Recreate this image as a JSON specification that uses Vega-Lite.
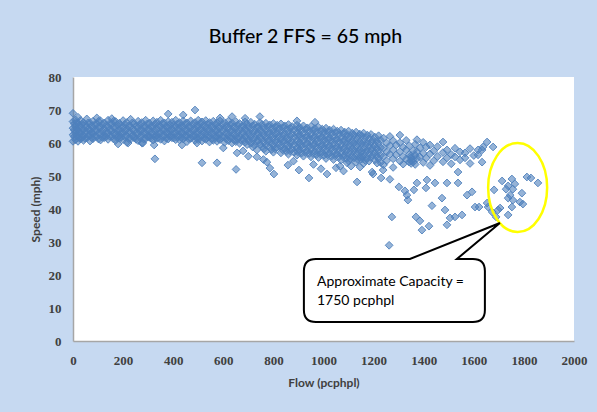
{
  "$schema": "https://vega.github.io/schema/vega-lite/v6.json",
  "width": 501,
  "height": 264,
  "autosize": "none",
  "padding": {"left": 73, "top": 77, "right": 23, "bottom": 71},
  "background": "#C6D9F1",
  "title": {"text": "Buffer 2 FFS = 65 mph", "font": "Lato", "fontSize": 19.5, "fontWeight": 500, "color": "#000000", "frame": "group", "anchor": "middle", "dx": -18, "offset": 24},
  "config": {
    "view": {"fill": "white", "stroke": null},
    "axis": {"grid": false, "ticks": false, "domainColor": "#A6A6A6", "domainWidth": 1.5, "labelFont": "Liberation Serif", "labelFontWeight": "bold", "labelFontSize": 13, "labelColor": "#404040", "titleFont": "Lato", "titleFontSize": 12, "titleFontWeight": "bold", "titleColor": "#404040"}
  },
  "encoding": {
    "x": {"field": "flow", "type": "quantitative", "scale": {"domain": [0, 2000], "nice": false, "zero": true}, "axis": {"title": "Flow (pcphpl)", "format": "d", "values": [0, 200, 400, 600, 800, 1000, 1200, 1400, 1600, 1800, 2000], "labelPadding": 13, "titlePadding": 10, "labelFlush": false}},
    "y": {"field": "speed", "type": "quantitative", "scale": {"domain": [0, 80], "nice": false}, "axis": {"title": "Speed (mph)", "format": "d", "values": [0, 10, 20, 30, 40, 50, 60, 70, 80], "labelPadding": 12, "titlePadding": 6, "labelFlush": false}}
  },
  "layer": [
    {
      "data": {"values": [
        {"flow":0,"speed":69},{"flow":0,"speed":66.5},{"flow":0,"speed":64.5},{"flow":0,"speed":62.5},{"flow":0,"speed":60.5},
        {"flow":10,"speed":67},{"flow":10,"speed":65},{"flow":10,"speed":63},{"flow":10,"speed":61},
        {"flow":20,"speed":67.8},{"flow":20,"speed":66},{"flow":20,"speed":64},{"flow":20,"speed":62},{"flow":20,"speed":60.5},
        {"flow":30,"speed":66.8},{"flow":30,"speed":64.8},{"flow":30,"speed":62.8},{"flow":30,"speed":61.2},
        {"flow":42,"speed":66.2},{"flow":42,"speed":64.2},{"flow":42,"speed":62.2},{"flow":42,"speed":60.8},
        {"flow":55,"speed":67.3},{"flow":55,"speed":65.1},{"flow":55,"speed":63.4},{"flow":55,"speed":61.5},
        {"flow":68,"speed":66},{"flow":68,"speed":64},{"flow":68,"speed":62.4},{"flow":68,"speed":60.6},
        {"flow":80,"speed":66.6},{"flow":80,"speed":64.6},{"flow":80,"speed":62.8},{"flow":80,"speed":61.3},
        {"flow":95,"speed":67.6},{"flow":95,"speed":65.8},{"flow":95,"speed":63.9},{"flow":95,"speed":62},
        {"flow":110,"speed":66.7},{"flow":110,"speed":64.7},{"flow":110,"speed":62.7},{"flow":110,"speed":60.9},
        {"flow":125,"speed":66.1},{"flow":125,"speed":64.3},{"flow":125,"speed":62.3},{"flow":125,"speed":61.6},
        {"flow":140,"speed":66.9},{"flow":140,"speed":64.9},{"flow":140,"speed":63},{"flow":140,"speed":61.1},
        {"flow":155,"speed":67.4},{"flow":155,"speed":65.9},{"flow":155,"speed":63.8},{"flow":155,"speed":62.1},
        {"flow":170,"speed":66.5},{"flow":170,"speed":64.5},{"flow":170,"speed":62.6},{"flow":170,"speed":60.8},
        {"flow":185,"speed":66},{"flow":185,"speed":64.1},{"flow":185,"speed":62.4},{"flow":185,"speed":61.4},
        {"flow":200,"speed":66.8},{"flow":200,"speed":64.6},{"flow":200,"speed":62.9},{"flow":200,"speed":61},
        {"flow":215,"speed":66.2},{"flow":215,"speed":64.3},{"flow":215,"speed":62.2},{"flow":215,"speed":60.2},
        {"flow":230,"speed":67.2},{"flow":230,"speed":65},{"flow":230,"speed":63.1},{"flow":230,"speed":61.2},
        {"flow":245,"speed":65.9},{"flow":245,"speed":63.9},{"flow":245,"speed":62},{"flow":245,"speed":61.5},
        {"flow":260,"speed":66.6},{"flow":260,"speed":64.6},{"flow":260,"speed":62.7},{"flow":260,"speed":60.7},
        {"flow":275,"speed":66.2},{"flow":275,"speed":64.1},{"flow":275,"speed":62.3},{"flow":275,"speed":60},
        {"flow":290,"speed":66.9},{"flow":290,"speed":64.8},{"flow":290,"speed":62.8},{"flow":290,"speed":61.3},
        {"flow":305,"speed":66},{"flow":305,"speed":64.2},{"flow":305,"speed":62.2},{"flow":305,"speed":61.7},
        {"flow":320,"speed":66.7},{"flow":320,"speed":64.7},{"flow":320,"speed":62.6},{"flow":320,"speed":60.9},
        {"flow":335,"speed":66.3},{"flow":335,"speed":64.4},{"flow":335,"speed":62.4},{"flow":335,"speed":61.4},
        {"flow":350,"speed":66.9},{"flow":350,"speed":64.9},{"flow":350,"speed":63},{"flow":350,"speed":61.1},
        {"flow":365,"speed":66.1},{"flow":365,"speed":64.2},{"flow":365,"speed":62.3},{"flow":365,"speed":60.6},
        {"flow":380,"speed":68.8},{"flow":380,"speed":66.5},{"flow":380,"speed":64.6},{"flow":380,"speed":62.7},{"flow":380,"speed":61.2},
        {"flow":395,"speed":66.3},{"flow":395,"speed":64.3},{"flow":395,"speed":62.4},{"flow":395,"speed":61.6},
        {"flow":410,"speed":66.9},{"flow":410,"speed":64.8},{"flow":410,"speed":62.9},{"flow":410,"speed":61},
        {"flow":425,"speed":66.2},{"flow":425,"speed":64.4},{"flow":425,"speed":62.4},{"flow":425,"speed":60.9},
        {"flow":440,"speed":68.5},{"flow":440,"speed":66.7},{"flow":440,"speed":64.7},{"flow":440,"speed":62.7},{"flow":440,"speed":61.2},
        {"flow":455,"speed":66.1},{"flow":455,"speed":64.1},{"flow":455,"speed":62.2},{"flow":455,"speed":60.4},
        {"flow":470,"speed":66.7},{"flow":470,"speed":64.7},{"flow":470,"speed":62.8},{"flow":470,"speed":61.4},
        {"flow":487,"speed":70},{"flow":487,"speed":66.2},{"flow":487,"speed":64.3},{"flow":487,"speed":62.3},{"flow":487,"speed":60.8},
        {"flow":500,"speed":66.9},{"flow":500,"speed":64.9},{"flow":500,"speed":62.8},{"flow":500,"speed":61},
        {"flow":515,"speed":66.4},{"flow":515,"speed":64.4},{"flow":515,"speed":62.5},{"flow":515,"speed":60.6},
        {"flow":530,"speed":66.8},{"flow":530,"speed":64.6},{"flow":530,"speed":62.6},{"flow":530,"speed":61.1},
        {"flow":545,"speed":66.2},{"flow":545,"speed":64.2},{"flow":545,"speed":62.2},{"flow":545,"speed":60.3},
        {"flow":560,"speed":66.6},{"flow":560,"speed":64.5},{"flow":560,"speed":62.5},{"flow":560,"speed":60.8},
        {"flow":575,"speed":66.1},{"flow":575,"speed":64},{"flow":575,"speed":62},{"flow":575,"speed":60.5},
        {"flow":587,"speed":67.6},{"flow":587,"speed":66.7},{"flow":587,"speed":64.6},{"flow":587,"speed":62.6},{"flow":587,"speed":61},
        {"flow":605,"speed":66.2},{"flow":605,"speed":64.2},{"flow":605,"speed":62.1},{"flow":605,"speed":60.2},
        {"flow":620,"speed":66.6},{"flow":620,"speed":64.4},{"flow":620,"speed":62.3},{"flow":620,"speed":60.7},
        {"flow":635,"speed":68},{"flow":635,"speed":66},{"flow":635,"speed":63.9},{"flow":635,"speed":61.9},{"flow":635,"speed":60},
        {"flow":650,"speed":66.5},{"flow":650,"speed":64.3},{"flow":650,"speed":62.2},{"flow":650,"speed":60.4},
        {"flow":665,"speed":65.9},{"flow":665,"speed":63.9},{"flow":665,"speed":61.8},{"flow":665,"speed":59.9},
        {"flow":687,"speed":67.5},{"flow":687,"speed":66.4},{"flow":687,"speed":64.3},{"flow":687,"speed":62.1},{"flow":687,"speed":60.2},
        {"flow":695,"speed":65.8},{"flow":695,"speed":63.7},{"flow":695,"speed":61.7},{"flow":695,"speed":59.5},
        {"flow":710,"speed":66.3},{"flow":710,"speed":64.1},{"flow":710,"speed":61.9},{"flow":710,"speed":59.9},
        {"flow":725,"speed":65.7},{"flow":725,"speed":63.6},{"flow":725,"speed":61.5},{"flow":725,"speed":59.3},
        {"flow":746,"speed":68},{"flow":746,"speed":66.2},{"flow":746,"speed":64},{"flow":746,"speed":61.8},{"flow":746,"speed":59.6},
        {"flow":755,"speed":65.6},{"flow":755,"speed":63.4},{"flow":755,"speed":61.3},{"flow":755,"speed":59},
        {"flow":770,"speed":66},{"flow":770,"speed":63.8},{"flow":770,"speed":61.6},{"flow":770,"speed":59.4},{"flow":770,"speed":57.5},
        {"flow":785,"speed":65.5},{"flow":785,"speed":63.3},{"flow":785,"speed":61.1},{"flow":785,"speed":58.8},
        {"flow":800,"speed":65.9},{"flow":800,"speed":63.6},{"flow":800,"speed":61.4},{"flow":800,"speed":59.2},{"flow":800,"speed":57.2},
        {"flow":815,"speed":65.4},{"flow":815,"speed":63.2},{"flow":815,"speed":61},{"flow":815,"speed":58.7},
        {"flow":830,"speed":65.8},{"flow":830,"speed":63.5},{"flow":830,"speed":61.2},{"flow":830,"speed":59},{"flow":830,"speed":57},
        {"flow":845,"speed":65.2},{"flow":845,"speed":63},{"flow":845,"speed":60.7},{"flow":845,"speed":58.4},
        {"flow":860,"speed":65.6},{"flow":860,"speed":63.3},{"flow":860,"speed":61},{"flow":860,"speed":58.8},{"flow":860,"speed":56.6},
        {"flow":875,"speed":65},{"flow":875,"speed":62.8},{"flow":875,"speed":60.5},{"flow":875,"speed":58.2},
        {"flow":894,"speed":66.7},{"flow":894,"speed":65.4},{"flow":894,"speed":63.1},{"flow":894,"speed":60.8},{"flow":894,"speed":58.5},{"flow":894,"speed":56.3},
        {"flow":905,"speed":64.8},{"flow":905,"speed":62.5},{"flow":905,"speed":60.2},{"flow":905,"speed":58},
        {"flow":920,"speed":65.2},{"flow":920,"speed":62.9},{"flow":920,"speed":60.6},{"flow":920,"speed":58.3},{"flow":920,"speed":56},
        {"flow":935,"speed":64.6},{"flow":935,"speed":62.3},{"flow":935,"speed":60},{"flow":935,"speed":57.7},
        {"flow":950,"speed":65},{"flow":950,"speed":62.7},{"flow":950,"speed":60.4},{"flow":950,"speed":58.1},{"flow":950,"speed":55.8},
        {"flow":966,"speed":66.3},{"flow":966,"speed":64.4},{"flow":966,"speed":62.1},{"flow":966,"speed":59.8},{"flow":966,"speed":57.5},
        {"flow":980,"speed":64.8},{"flow":980,"speed":62.4},{"flow":980,"speed":60.1},{"flow":980,"speed":57.8},{"flow":980,"speed":55.6},
        {"flow":995,"speed":64.2},{"flow":995,"speed":61.9},{"flow":995,"speed":59.6},{"flow":995,"speed":57.3},
        {"flow":1010,"speed":64.5},{"flow":1010,"speed":62.2},{"flow":1010,"speed":59.9},{"flow":1010,"speed":57.6},{"flow":1010,"speed":55.3},
        {"flow":1025,"speed":63.9},{"flow":1025,"speed":61.6},{"flow":1025,"speed":59.3},{"flow":1025,"speed":57},
        {"flow":1040,"speed":64.2},{"flow":1040,"speed":61.9},{"flow":1040,"speed":59.6},{"flow":1040,"speed":57.3},{"flow":1040,"speed":55},
        {"flow":1055,"speed":63.6},{"flow":1055,"speed":61.3},{"flow":1055,"speed":59},{"flow":1055,"speed":56.7},
        {"flow":1070,"speed":63.9},{"flow":1070,"speed":61.6},{"flow":1070,"speed":59.3},{"flow":1070,"speed":57},{"flow":1070,"speed":54.8},
        {"flow":1085,"speed":63.3},{"flow":1085,"speed":61},{"flow":1085,"speed":58.7},{"flow":1085,"speed":56.4},
        {"flow":1100,"speed":63.6},{"flow":1100,"speed":61.3},{"flow":1100,"speed":59},{"flow":1100,"speed":56.7},{"flow":1100,"speed":54.5},
        {"flow":1115,"speed":63},{"flow":1115,"speed":60.7},{"flow":1115,"speed":58.4},{"flow":1115,"speed":56.1},
        {"flow":1130,"speed":63.3},{"flow":1130,"speed":61},{"flow":1130,"speed":58.7},{"flow":1130,"speed":56.4},{"flow":1130,"speed":54.2},
        {"flow":1145,"speed":62.7},{"flow":1145,"speed":60.4},{"flow":1145,"speed":58.1},{"flow":1145,"speed":55.8},
        {"flow":1160,"speed":63},{"flow":1160,"speed":60.6},{"flow":1160,"speed":58.3},{"flow":1160,"speed":56},{"flow":1160,"speed":53.8},
        {"flow":1175,"speed":62.4},{"flow":1175,"speed":60},{"flow":1175,"speed":57.7},{"flow":1175,"speed":55.4},
        {"flow":1190,"speed":62.6},{"flow":1190,"speed":60.2},{"flow":1190,"speed":57.9},{"flow":1190,"speed":55.6},
        {"flow":1205,"speed":61.8},{"flow":1205,"speed":59.5},{"flow":1205,"speed":57.2},{"flow":1205,"speed":54.9},
        {"flow":1220,"speed":62.2},{"flow":1220,"speed":59.8},{"flow":1220,"speed":57.5},{"flow":1220,"speed":55.2},
        {"flow":5,"speed":65.8},{"flow":5,"speed":63.9},{"flow":5,"speed":61.9},
        {"flow":15,"speed":66.2},{"flow":15,"speed":64.1},{"flow":15,"speed":62.1},
        {"flow":25,"speed":65.3},{"flow":25,"speed":63.2},{"flow":25,"speed":61.6},
        {"flow":36,"speed":65.7},{"flow":36,"speed":63.6},{"flow":36,"speed":61.8},
        {"flow":48,"speed":65.4},{"flow":48,"speed":63.3},{"flow":48,"speed":61.4},
        {"flow":61,"speed":66.1},{"flow":61,"speed":64.2},{"flow":61,"speed":62.3},
        {"flow":74,"speed":65.2},{"flow":74,"speed":63.1},{"flow":74,"speed":61.6},
        {"flow":87,"speed":65.6},{"flow":87,"speed":63.7},{"flow":87,"speed":61.9},
        {"flow":102,"speed":66.6},{"flow":102,"speed":64.9},{"flow":102,"speed":63},{"flow":102,"speed":61.2},
        {"flow":117,"speed":65.6},{"flow":117,"speed":63.6},{"flow":117,"speed":61.7},
        {"flow":132,"speed":65.3},{"flow":132,"speed":63.4},{"flow":132,"speed":61.9},
        {"flow":147,"speed":65.9},{"flow":147,"speed":63.9},{"flow":147,"speed":62},
        {"flow":162,"speed":66.6},{"flow":162,"speed":64.8},{"flow":162,"speed":62.9},{"flow":162,"speed":61.2},
        {"flow":177,"speed":65.5},{"flow":177,"speed":63.5},{"flow":177,"speed":61.6},
        {"flow":192,"speed":65.4},{"flow":192,"speed":63.2},{"flow":192,"speed":61.7},
        {"flow":207,"speed":65.7},{"flow":207,"speed":63.7},{"flow":207,"speed":61.8},
        {"flow":222,"speed":65.2},{"flow":222,"speed":63.2},{"flow":222,"speed":61.3},
        {"flow":237,"speed":66.1},{"flow":237,"speed":64.1},{"flow":237,"speed":62.2},
        {"flow":252,"speed":65.1},{"flow":252,"speed":63},{"flow":252,"speed":61.1},
        {"flow":267,"speed":65.6},{"flow":267,"speed":63.6},{"flow":267,"speed":61.7},
        {"flow":282,"speed":65.2},{"flow":282,"speed":63.2},{"flow":282,"speed":61.2},
        {"flow":297,"speed":65.8},{"flow":297,"speed":63.8},{"flow":297,"speed":61.9},
        {"flow":312,"speed":65.1},{"flow":312,"speed":63.3},{"flow":312,"speed":61.4},
        {"flow":327,"speed":65.7},{"flow":327,"speed":63.6},{"flow":327,"speed":61.8},
        {"flow":342,"speed":65.4},{"flow":342,"speed":63.4},{"flow":342,"speed":61.6},
        {"flow":357,"speed":65.9},{"flow":357,"speed":63.9},{"flow":357,"speed":62},
        {"flow":372,"speed":65.1},{"flow":372,"speed":63.3},{"flow":372,"speed":61.5},
        {"flow":387,"speed":65.5},{"flow":387,"speed":63.6},{"flow":387,"speed":61.9},
        {"flow":402,"speed":65.4},{"flow":402,"speed":63.4},{"flow":402,"speed":61.5},
        {"flow":417,"speed":65.8},{"flow":417,"speed":63.8},{"flow":417,"speed":61.9},
        {"flow":432,"speed":65.3},{"flow":432,"speed":63.3},{"flow":432,"speed":61.6},
        {"flow":447,"speed":65.7},{"flow":447,"speed":63.7},{"flow":447,"speed":61.9},
        {"flow":462,"speed":65.1},{"flow":462,"speed":63.2},{"flow":462,"speed":61.3},
        {"flow":477,"speed":65.7},{"flow":477,"speed":63.7},{"flow":477,"speed":61.9},
        {"flow":493,"speed":65.3},{"flow":493,"speed":63.3},{"flow":493,"speed":61.6},
        {"flow":507,"speed":65.9},{"flow":507,"speed":63.9},{"flow":507,"speed":61.9},
        {"flow":522,"speed":65.4},{"flow":522,"speed":63.5},{"flow":522,"speed":61.5},
        {"flow":537,"speed":65.7},{"flow":537,"speed":63.6},{"flow":537,"speed":61.8},
        {"flow":552,"speed":65.2},{"flow":552,"speed":63.2},{"flow":552,"speed":61.3},
        {"flow":567,"speed":65.6},{"flow":567,"speed":63.5},{"flow":567,"speed":61.6},
        {"flow":581,"speed":65.1},{"flow":581,"speed":63},{"flow":581,"speed":61.3},
        {"flow":596,"speed":65.6},{"flow":596,"speed":63.6},{"flow":596,"speed":61.8},
        {"flow":612,"speed":65.2},{"flow":612,"speed":63.1},{"flow":612,"speed":61.2},
        {"flow":627,"speed":65.5},{"flow":627,"speed":63.4},{"flow":627,"speed":61.5},
        {"flow":642,"speed":64.9},{"flow":642,"speed":62.9},{"flow":642,"speed":61},
        {"flow":657,"speed":65.4},{"flow":657,"speed":63.2},{"flow":657,"speed":61.3},
        {"flow":672,"speed":64.9},{"flow":672,"speed":62.8},{"flow":672,"speed":60.8},
        {"flow":680,"speed":65.3},{"flow":680,"speed":63.2},{"flow":680,"speed":61.1},
        {"flow":702,"speed":64.8},{"flow":702,"speed":62.7},{"flow":702,"speed":60.6},
        {"flow":717,"speed":65.2},{"flow":717,"speed":63},{"flow":717,"speed":60.9},{"flow":717,"speed":58.8},
        {"flow":732,"speed":64.7},{"flow":732,"speed":62.6},{"flow":732,"speed":60.4},
        {"flow":740,"speed":65},{"flow":740,"speed":62.9},{"flow":740,"speed":60.7},
        {"flow":762,"speed":64.6},{"flow":762,"speed":62.4},{"flow":762,"speed":60.2},{"flow":762,"speed":58.2},
        {"flow":777,"speed":64.9},{"flow":777,"speed":62.7},{"flow":777,"speed":60.5},
        {"flow":792,"speed":64.4},{"flow":792,"speed":62.2},{"flow":792,"speed":60},{"flow":792,"speed":58},
        {"flow":807,"speed":64.8},{"flow":807,"speed":62.5},{"flow":807,"speed":60.3},{"flow":807,"speed":58.2},
        {"flow":822,"speed":64.3},{"flow":822,"speed":62.1},{"flow":822,"speed":59.8},
        {"flow":837,"speed":64.6},{"flow":837,"speed":62.3},{"flow":837,"speed":60.1},{"flow":837,"speed":57.9},
        {"flow":852,"speed":64.1},{"flow":852,"speed":61.8},{"flow":852,"speed":59.6},{"flow":852,"speed":57.5},
        {"flow":867,"speed":64.5},{"flow":867,"speed":62.1},{"flow":867,"speed":59.9},{"flow":867,"speed":57.6},
        {"flow":882,"speed":63.9},{"flow":882,"speed":61.7},{"flow":882,"speed":59.4},{"flow":882,"speed":57.2},
        {"flow":898,"speed":64.3},{"flow":898,"speed":61.9},{"flow":898,"speed":59.6},{"flow":898,"speed":57.3},
        {"flow":912,"speed":63.8},{"flow":912,"speed":61.5},{"flow":912,"speed":59.2},{"flow":912,"speed":56.9},
        {"flow":928,"speed":64.1},{"flow":928,"speed":61.7},{"flow":928,"speed":59.4},{"flow":928,"speed":57.1},
        {"flow":943,"speed":63.6},{"flow":943,"speed":61.3},{"flow":943,"speed":59},{"flow":943,"speed":56.8},
        {"flow":958,"speed":63.8},{"flow":958,"speed":61.5},{"flow":958,"speed":59.2},{"flow":958,"speed":56.8},
        {"flow":972,"speed":63.4},{"flow":972,"speed":61.1},{"flow":972,"speed":58.8},{"flow":972,"speed":56.5},
        {"flow":988,"speed":63.6},{"flow":988,"speed":61.2},{"flow":988,"speed":58.9},{"flow":988,"speed":56.6},
        {"flow":1002,"speed":63.2},{"flow":1002,"speed":60.9},{"flow":1002,"speed":58.6},{"flow":1002,"speed":56.3},
        {"flow":1017,"speed":63.4},{"flow":1017,"speed":61},{"flow":1017,"speed":58.7},{"flow":1017,"speed":56.4},
        {"flow":1032,"speed":62.9},{"flow":1032,"speed":60.6},{"flow":1032,"speed":58.3},{"flow":1032,"speed":56},
        {"flow":1047,"speed":63.1},{"flow":1047,"speed":60.7},{"flow":1047,"speed":58.4},{"flow":1047,"speed":56.1},
        {"flow":1062,"speed":62.6},{"flow":1062,"speed":60.3},{"flow":1062,"speed":58},{"flow":1062,"speed":55.8},
        {"flow":1078,"speed":62.8},{"flow":1078,"speed":60.4},{"flow":1078,"speed":58.1},{"flow":1078,"speed":55.8},
        {"flow":1092,"speed":62.3},{"flow":1092,"speed":60},{"flow":1092,"speed":57.7},{"flow":1092,"speed":55.4},
        {"flow":1107,"speed":62.1},{"flow":1107,"speed":59.8},{"flow":1107,"speed":57.5},{"flow":1107,"speed":55.2},
        {"flow":1122,"speed":62.4},{"flow":1122,"speed":60},{"flow":1122,"speed":57.7},{"flow":1122,"speed":55.5},
        {"flow":1137,"speed":61.9},{"flow":1137,"speed":59.6},{"flow":1137,"speed":57.3},{"flow":1137,"speed":55},
        {"flow":1152,"speed":62.1},{"flow":1152,"speed":59.7},{"flow":1152,"speed":57.4},{"flow":1152,"speed":55.1},
        {"flow":1167,"speed":61.6},{"flow":1167,"speed":59.3},{"flow":1167,"speed":57},{"flow":1167,"speed":54.7},
        {"flow":1182,"speed":61.3},{"flow":1182,"speed":59},{"flow":1182,"speed":56.7},{"flow":1182,"speed":54.5},
        {"flow":1197,"speed":60.9},{"flow":1197,"speed":58.6},{"flow":1197,"speed":56.4},
        {"flow":1212,"speed":60.6},{"flow":1212,"speed":58.3},{"flow":1212,"speed":56.1},
        {"flow":1228,"speed":60.9},{"flow":1228,"speed":58.6},{"flow":1228,"speed":56.3},{"flow":1228,"speed":54.1},
        {"flow":1240,"speed":61.5},{"flow":1240,"speed":58.5},{"flow":1240,"speed":56},{"flow":1240,"speed":53.4},
        {"flow":1252,"speed":60},{"flow":1252,"speed":57.3},{"flow":1252,"speed":54.6},
        {"flow":1265,"speed":62},{"flow":1265,"speed":59.2},{"flow":1265,"speed":56.6},
        {"flow":1278,"speed":60.7},{"flow":1278,"speed":57.9},{"flow":1278,"speed":55.2},{"flow":1278,"speed":52.6},
        {"flow":1290,"speed":59.4},{"flow":1290,"speed":56.4},
        {"flow":1305,"speed":62.4},{"flow":1305,"speed":60.1},{"flow":1305,"speed":57.4},{"flow":1305,"speed":54.5},
        {"flow":1318,"speed":58.7},{"flow":1318,"speed":55.9},{"flow":1318,"speed":53.6},
        {"flow":1330,"speed":60.8},{"flow":1330,"speed":57.9},{"flow":1330,"speed":55.1},
        {"flow":1342,"speed":59.2},{"flow":1342,"speed":56.5},{"flow":1342,"speed":54.2},
        {"flow":1350,"speed":55.5},{"flow":1350,"speed":54.6},{"flow":1350,"speed":56.2},{"flow":1350,"speed":53.8},
        {"flow":1358,"speed":57.7},{"flow":1358,"speed":55},{"flow":1358,"speed":54.2},
        {"flow":1366,"speed":59.6},{"flow":1366,"speed":56.3},{"flow":1366,"speed":53.5},
        {"flow":1373,"speed":61},{"flow":1373,"speed":57.4},{"flow":1373,"speed":55.3},
        {"flow":1385,"speed":58.5},{"flow":1385,"speed":55.8},
        {"flow":1398,"speed":60.2},{"flow":1398,"speed":56.9},{"flow":1398,"speed":54.1},
        {"flow":1410,"speed":58.8},{"flow":1410,"speed":55.4},
        {"flow":1425,"speed":59.4},{"flow":1425,"speed":56.7},{"flow":1425,"speed":53.2},
        {"flow":1440,"speed":57.6},{"flow":1440,"speed":54.6},
        {"flow":1455,"speed":58.9},{"flow":1455,"speed":55.9},
        {"flow":1477,"speed":60.3},{"flow":1477,"speed":57.1},{"flow":1477,"speed":54.3},
        {"flow":1493,"speed":57.9},{"flow":1493,"speed":55.5},
        {"flow":1510,"speed":56.5},{"flow":1510,"speed":53.7},
        {"flow":1525,"speed":55.8},{"flow":1525,"speed":58.4},
        {"flow":1545,"speed":57.3},{"flow":1545,"speed":54.9},
        {"flow":1565,"speed":57},{"flow":1565,"speed":55.5},
        {"flow":1585,"speed":58.3},{"flow":1585,"speed":53.8},
        {"flow":1600,"speed":56.2},
        {"flow":1617,"speed":57.9},{"flow":1617,"speed":56.4},
        {"flow":1633,"speed":54.2},{"flow":1633,"speed":57.9},
        {"flow":1637,"speed":58.8},{"flow":1653,"speed":60.3},{"flow":1677,"speed":58.8},
        {"flow":180,"speed":59.7},{"flow":220,"speed":60},{"flow":279,"speed":60},{"flow":324,"speed":59.4},{"flow":327,"speed":55.2},
        {"flow":435,"speed":59.4},{"flow":495,"speed":60},{"flow":515,"speed":54},{"flow":575,"speed":54},{"flow":600,"speed":58.5},
        {"flow":651,"speed":52},{"flow":655,"speed":57},{"flow":679,"speed":57.6},{"flow":700,"speed":56},{"flow":734,"speed":57.9},
        {"flow":734,"speed":55.8},{"flow":760,"speed":55},{"flow":774,"speed":54.2},{"flow":786,"speed":52.4},{"flow":802,"speed":50.6},
        {"flow":858,"speed":53.3},{"flow":880,"speed":54.5},{"flow":902,"speed":51.8},{"flow":942,"speed":49.4},{"flow":960,"speed":53.5},
        {"flow":990,"speed":52.2},{"flow":1014,"speed":50.6},{"flow":1050,"speed":52.5},{"flow":1066,"speed":53},{"flow":1080,"speed":51.5},
        {"flow":1094,"speed":54},{"flow":1110,"speed":53},{"flow":1134,"speed":48.2},{"flow":1146,"speed":52.7},{"flow":1154,"speed":55.8},
        {"flow":1194,"speed":51.2},{"flow":1198,"speed":50.6},{"flow":1214,"speed":53.9},{"flow":1230,"speed":49.4},{"flow":1238,"speed":51.8},
        {"flow":1262,"speed":29},{"flow":1265,"speed":49},{"flow":1273,"speed":37.6},{"flow":1301,"speed":46.7},{"flow":1325,"speed":45.5},
        {"flow":1333,"speed":44.2},{"flow":1337,"speed":42.7},{"flow":1361,"speed":45.8},{"flow":1369,"speed":37.6},{"flow":1373,"speed":47.9},
        {"flow":1385,"speed":36.4},{"flow":1393,"speed":33.6},{"flow":1409,"speed":46.4},{"flow":1413,"speed":48.8},{"flow":1421,"speed":34.8},
        {"flow":1433,"speed":41},{"flow":1445,"speed":47.9},{"flow":1473,"speed":43.3},{"flow":1485,"speed":39.7},{"flow":1493,"speed":35.2},
        {"flow":1493,"speed":47.9},{"flow":1505,"speed":37.3},{"flow":1525,"speed":37.6},{"flow":1537,"speed":47.9},{"flow":1537,"speed":51.2},
        {"flow":1553,"speed":38.2},{"flow":1573,"speed":44.2},{"flow":1593,"speed":45.2},{"flow":1605,"speed":40.6},{"flow":1621,"speed":40.6},
        {"flow":1713,"speed":48.5},{"flow":1681,"speed":45.8},{"flow":1752,"speed":49.1},{"flow":1737,"speed":47},{"flow":1764,"speed":47.6},
        {"flow":1756,"speed":46},{"flow":1729,"speed":46},{"flow":1792,"speed":44.8},{"flow":1745,"speed":44.2},{"flow":1737,"speed":43.3},
        {"flow":1756,"speed":42.7},{"flow":1784,"speed":42.1},{"flow":1796,"speed":41.5},{"flow":1752,"speed":40.6},{"flow":1737,"speed":38.2},
        {"flow":1697,"speed":39.7},{"flow":1705,"speed":40.3},{"flow":1812,"speed":49.7},{"flow":1828,"speed":49.4},{"flow":1856,"speed":47.9},
        {"flow":1657,"speed":40.6},{"flow":1653,"speed":41.8},{"flow":1689,"speed":37.6},{"flow":1673,"speed":39.1}
      ]},
      "mark": {"type": "point", "shape": "diamond", "filled": true, "size": 60, "fill": "#4F81BD", "fillOpacity": 0.6, "stroke": "#4F81BD", "strokeOpacity": 0.9, "strokeWidth": 1}
    },
    {
      "data": {"values": [{"flow": 1775, "speed": 46.5}]},
      "mark": {"type": "point", "shape": "M -0.663 0 A 0.663 1 0 1 0 0.663 0 A 0.663 1 0 1 0 -0.663 0 Z", "size": 7921, "filled": false, "stroke": "#FFFF00", "strokeWidth": 2.5, "opacity": 1}
    },
    {
      "data": {"values": [{"flow": 1283, "speed": 15.3}]},
      "mark": {"type": "point", "shape": "M -78.5 -31.5 L 15.5 -31.5 L 105.5 -67.5 L 62.5 -31.5 L 78.5 -31.5 Q 90.5 -31.5 90.5 -19.5 L 90.5 19.5 Q 90.5 31.5 78.5 31.5 L -78.5 31.5 Q -90.5 31.5 -90.5 19.5 L -90.5 -19.5 Q -90.5 -31.5 -78.5 -31.5 Z", "size": 4, "filled": true, "fill": "#FFFFFF", "fillOpacity": 1, "stroke": "#000000", "strokeWidth": 2, "opacity": 1}
    },
    {
      "data": {"values": [{"flow": 974, "speed": 17.9, "label": "Approximate Capacity ="}, {"flow": 974, "speed": 12.1, "label": "1750 pcphpl"}]},
      "mark": {"type": "text", "align": "left", "baseline": "middle", "font": "Lato", "fontSize": 14, "color": "#000000"},
      "encoding": {"text": {"field": "label"}}
    }
  ]
}
